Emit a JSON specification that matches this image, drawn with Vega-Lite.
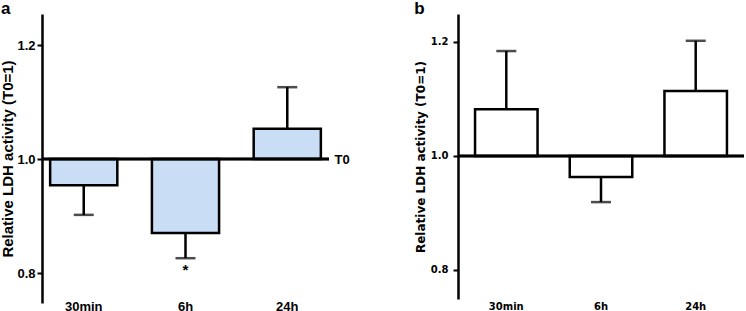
{
  "$schema": "https://vega.github.io/schema/vega-lite/v6.json",
  "padding": {"left": 0, "top": 0, "right": 0, "bottom": 0},
  "background": "white",
  "datasets": {
    "a": [
      {"cat": "30min", "value": 0.954, "err": 0.902, "sig": ""},
      {"cat": "6h", "value": 0.870, "err": 0.826, "sig": "*"},
      {"cat": "24h", "value": 1.053, "err": 1.126, "sig": ""}
    ],
    "b": [
      {"cat": "30min", "value": 1.082, "err": 1.184},
      {"cat": "6h", "value": 0.963, "err": 0.919},
      {"cat": "24h", "value": 1.114, "err": 1.202}
    ]
  },
  "config": {"view": {"stroke": null}},
  "spacing": 64,
  "hconcat": [
    {
      "title": {"text": "a", "anchor": "start", "frame": "bounds", "font": "Liberation Sans", "fontSize": 17, "fontWeight": "bold", "color": "black", "offset": -4},
      "width": 287,
      "height": 289,
      "data": {"name": "a"},
      "resolve": {"axis": {"y": "independent"}},
      "layer": [
        {
          "mark": {"type": "bar", "fill": "#c9ddf5", "stroke": "black", "strokeWidth": 2.5},
          "encoding": {
            "x": {"field": "cat", "type": "nominal", "sort": ["30min", "6h", "24h"], "scale": {"paddingInner": 0.34, "paddingOuter": 0.08},
              "axis": {"title": null, "labelAngle": 0, "domain": false, "ticks": false, "labelPadding": -3, "labelFont": "Liberation Sans", "labelFontSize": 13, "labelFontWeight": "bold", "labelColor": "black"}},
            "y": {"field": "value", "type": "quantitative", "scale": {"domain": [0.7474, 1.2544], "nice": false, "zero": false},
              "axis": {"values": [0.8, 1.0, 1.2], "format": ".1f", "grid": false, "title": "Relative LDH activity (T0=1)", "titleFont": "Liberation Sans", "titleFontSize": 15, "titleFontWeight": "bold", "titleColor": "black", "titlePadding": 1, "labelFont": "Liberation Sans", "labelFontSize": 13, "labelFontWeight": "bold", "labelColor": "black", "labelPadding": 2, "tickColor": "black", "tickWidth": 2, "tickSize": 5, "domainColor": "black", "domainWidth": 2.5}},
            "y2": {"datum": 1}
          }
        },
        {
          "mark": {"type": "rule", "strokeWidth": 2.5, "color": "black"},
          "encoding": {
            "x": {"field": "cat", "type": "nominal", "sort": ["30min", "6h", "24h"]},
            "y": {"field": "value", "type": "quantitative", "axis": null},
            "y2": {"field": "err"}
          }
        },
        {
          "mark": {"type": "tick", "orient": "horizontal", "size": 20, "thickness": 2.5, "color": "black"},
          "encoding": {
            "x": {"field": "cat", "type": "nominal", "sort": ["30min", "6h", "24h"]},
            "y": {"field": "err", "type": "quantitative", "axis": null}
          }
        },
        {
          "mark": {"type": "text", "baseline": "top", "dy": 5, "font": "Liberation Sans", "fontSize": 15, "fontWeight": "bold", "color": "black"},
          "encoding": {
            "x": {"field": "cat", "type": "nominal", "sort": ["30min", "6h", "24h"]},
            "y": {"field": "err", "type": "quantitative", "axis": null},
            "text": {"field": "sig"}
          }
        },
        {
          "mark": {"type": "rule", "strokeWidth": 2.5, "color": "black"},
          "encoding": {
            "y": {"datum": 1, "type": "quantitative",
              "axis": {"orient": "right", "values": [1], "labelExpr": "'T0'", "domain": false, "ticks": false, "grid": false, "title": null, "labelFont": "Liberation Sans", "labelFontSize": 13, "labelFontWeight": "bold", "labelColor": "black", "labelPadding": 5}}
          }
        }
      ]
    },
    {
      "title": {"text": "b", "anchor": "start", "frame": "bounds", "font": "Liberation Sans", "fontSize": 17, "fontWeight": "bold", "color": "black", "offset": -4},
      "width": 286,
      "height": 285,
      "data": {"name": "b"},
      "layer": [
        {
          "mark": {"type": "bar", "fill": "white", "stroke": "black", "strokeWidth": 2.5},
          "encoding": {
            "x": {"field": "cat", "type": "nominal", "sort": ["30min", "6h", "24h"], "scale": {"paddingInner": 0.34, "paddingOuter": 0.18},
              "axis": {"title": null, "labelAngle": 0, "domain": false, "ticks": false, "labelPadding": 2, "labelFont": "DejaVu Sans", "labelFontSize": 10, "labelFontWeight": "bold", "labelColor": "black"}},
            "y": {"field": "value", "type": "quantitative", "scale": {"domain": [0.749, 1.249], "nice": false, "zero": false},
              "axis": {"values": [0.8, 1.0, 1.2], "format": ".1f", "grid": false, "title": "Relative LDH activity (T0=1)", "titleFont": "DejaVu Sans", "titleFontSize": 12, "titleFontWeight": "bold", "titleColor": "black", "titlePadding": 3, "labelFont": "DejaVu Sans", "labelFontSize": 10, "labelFontWeight": "bold", "labelColor": "black", "labelPadding": 5, "tickColor": "black", "tickWidth": 2, "tickSize": 5, "domainColor": "black", "domainWidth": 2.5}},
            "y2": {"datum": 1}
          }
        },
        {
          "mark": {"type": "rule", "strokeWidth": 2.5, "color": "black"},
          "encoding": {
            "x": {"field": "cat", "type": "nominal", "sort": ["30min", "6h", "24h"]},
            "y": {"field": "value", "type": "quantitative"},
            "y2": {"field": "err"}
          }
        },
        {
          "mark": {"type": "tick", "orient": "horizontal", "size": 20, "thickness": 2.5, "color": "black"},
          "encoding": {
            "x": {"field": "cat", "type": "nominal", "sort": ["30min", "6h", "24h"]},
            "y": {"field": "err", "type": "quantitative"}
          }
        },
        {
          "mark": {"type": "rule", "strokeWidth": 2.5, "color": "black"},
          "encoding": {"y": {"datum": 1, "type": "quantitative"}}
        }
      ]
    }
  ]
}
